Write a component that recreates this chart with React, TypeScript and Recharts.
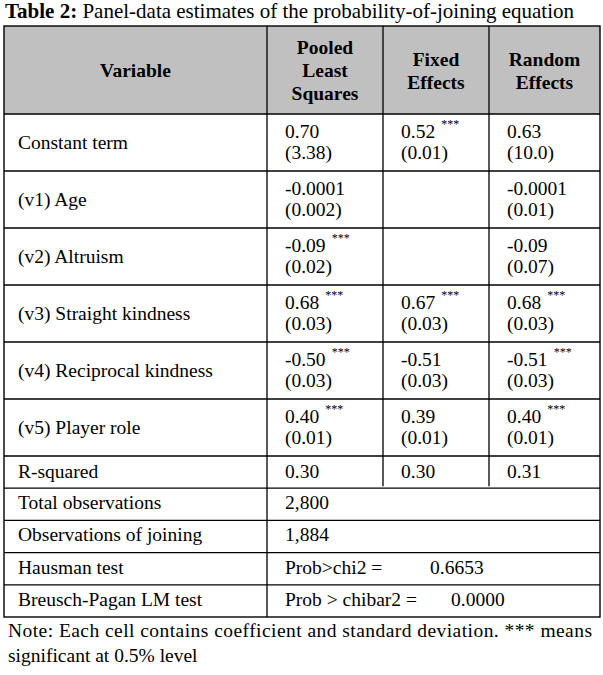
import React from 'react';
import { ComposedChart, Customized } from 'recharts';

// table contents
const variables = ['Constant term', '(v1) Age', '(v2) Altruism', '(v3) Straight kindness', '(v4) Reciprocal kindness', '(v5) Player role'];
const pooledCoef = ['0.70', '-0.0001', '-0.09', '0.68', '-0.50', '0.40'];
const pooledSE = ['(3.38)', '(0.002)', '(0.02)', '(0.03)', '(0.03)', '(0.01)'];
const pooledSig = [false, false, true, true, true, true];
const fixedCoef = ['0.52', '', '', '0.67', '-0.51', '0.39'];
const fixedSE = ['(0.01)', '', '', '(0.03)', '(0.03)', '(0.01)'];
const fixedSig = [true, false, false, true, false, false];
const randomCoef = ['0.63', '-0.0001', '-0.09', '0.68', '-0.51', '0.40'];
const randomSE = ['(10.0)', '(0.01)', '(0.07)', '(0.03)', '(0.03)', '(0.01)'];
const randomSig = [false, false, false, true, true, true];
const rSquared = ['0.30', '0.30', '0.31'];
const summaryLabels = ['Total observations', 'Observations of joining', 'Hausman test', 'Breusch-Pagan LM test'];
const summaryText = ['2,800', '1,884', 'Prob>chi2 =', 'Prob > chibar2 ='];
const summaryStat = ['', '', '0.6653', '0.0000'];
const headers = [['Variable'], ['Pooled', 'Least', 'Squares'], ['Fixed', 'Effects'], ['Random', 'Effects']];

const coefRows = variables.map((v, i) => ({
  name: v,
  cells: [
    { coef: pooledCoef[i], se: pooledSE[i], sig: pooledSig[i] },
    { coef: fixedCoef[i], se: fixedSE[i], sig: fixedSig[i] },
    { coef: randomCoef[i], se: randomSE[i], sig: randomSig[i] },
  ],
}));

// layout
const FONT = "'Liberation Serif', 'Times New Roman', serif";
const FS = 19.5;
const L = 4, R = 600;
const colX = [L, 267, 383, 489, R];
const TOP = 26, HEAD_H = 88, COEF_H = 57, SMALL_H = 32.2;
const GRID = '#000';

const TableLayer = () => {
  const headBottom = TOP + HEAD_H;
  const coefTops = coefRows.map((_, i) => headBottom + i * COEF_H);
  const rsqTop = headBottom + coefRows.length * COEF_H;
  const sumTops = summaryLabels.map((_, i) => rsqTop + (i + 1) * SMALL_H);
  const bottom = rsqTop + (summaryLabels.length + 1) * SMALL_H;

  const hLines = [headBottom, ...coefTops.slice(1), rsqTop, ...sumTops];

  return (
    <g fontFamily={FONT} fill="#000">
      <text x={5} y={18} fontSize={21}>
        <tspan fontWeight="bold">Table 2:</tspan>
        <tspan> Panel-data estimates of the probability-of-joining equation</tspan>
      </text>

      <rect x={L} y={TOP} width={R - L} height={HEAD_H} fill="#c0c0c0" />

      {headers.map((lines, c) => {
        const cx = (colX[c] + colX[c + 1]) / 2;
        const first = TOP + HEAD_H / 2 + 7 - ((lines.length - 1) * 23) / 2;
        return lines.map((t, k) => (
          <text key={`h${c}${k}`} x={cx} y={first + k * 23} fontSize={FS} fontWeight="bold" textAnchor="middle">{t}</text>
        ));
      })}

      {coefRows.map((row, i) => (
        <g key={row.name}>
          <text x={18} y={coefTops[i] + 35} fontSize={FS}>{row.name}</text>
          {row.cells.map((cell, c) => (
            <g key={c}>
              {cell.coef && (
                <text x={colX[c + 1] + 18} y={coefTops[i] + 24} fontSize={FS}>
                  <tspan>{cell.coef}</tspan>
                  {cell.sig && <tspan dx={6} dy={-10} fontSize={12}>***</tspan>}
                </text>
              )}
              {cell.se && <text x={colX[c + 1] + 18} y={coefTops[i] + 45} fontSize={FS}>{cell.se}</text>}
            </g>
          ))}
        </g>
      ))}

      <text x={18} y={rsqTop + 22} fontSize={FS}>R-squared</text>
      {rSquared.map((v, c) => (
        <text key={`r${c}`} x={colX[c + 1] + 18} y={rsqTop + 22} fontSize={FS}>{v}</text>
      ))}

      {summaryLabels.map((lab, i) => (
        <g key={lab}>
          <text x={18} y={sumTops[i] + 21} fontSize={FS}>{lab}</text>
          <text x={colX[1] + 18} y={sumTops[i] + 21} fontSize={FS}>{summaryText[i]}</text>
          {summaryStat[i] && (
            <text x={colX[1] + (i === 2 ? 163 : 184)} y={sumTops[i] + 21} fontSize={FS}>{summaryStat[i]}</text>
          )}
        </g>
      ))}

      {/* grid */}
      <rect x={L} y={TOP} width={R - L} height={bottom - TOP} fill="none" stroke={GRID} strokeWidth={1.4} />
      {hLines.map((y, i) => (
        <line key={`hl${i}`} x1={L} x2={R} y1={y} y2={y} stroke={GRID} strokeWidth={1.3} />
      ))}
      <line x1={colX[1]} x2={colX[1]} y1={TOP} y2={bottom} stroke={GRID} strokeWidth={1.3} />
      {[colX[2], colX[3]].map((x) => (
        <line key={`v${x}`} x1={x} x2={x} y1={TOP} y2={rsqTop + SMALL_H - 2} stroke={GRID} strokeWidth={1.3} />
      ))}

      <text x={8} y={bottom + 20} fontSize={FS} textLength={584} lengthAdjust="spacing">
        Note: Each cell contains coefficient and standard deviation. *** means
      </text>
      <text x={8} y={bottom + 45} fontSize={FS}>significant at 0.5% level</text>
    </g>
  );
};

export default function App() {
  return (
    <div style={{ position: 'absolute', left: 0, top: 0, width: 603, height: 675, background: '#fff' }}>
      <ComposedChart width={603} height={675} data={coefRows} margin={{ top: 0, right: 0, bottom: 0, left: 0 }}>
        <Customized component={<TableLayer />} />
      </ComposedChart>
    </div>
  );
}
